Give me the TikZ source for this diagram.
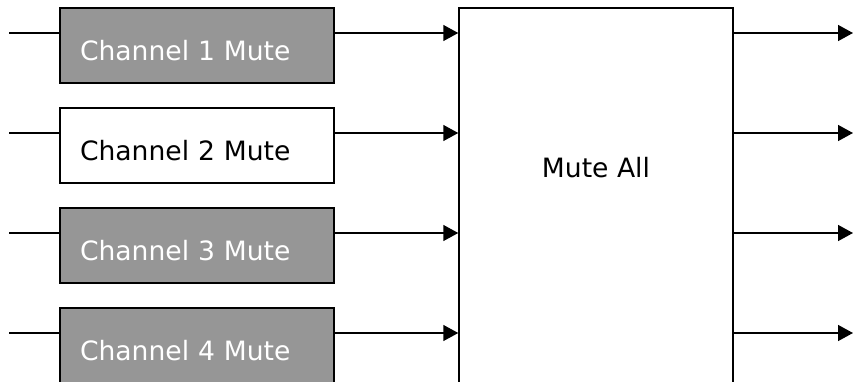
\documentclass[tikz,border=0pt]{standalone}
\usepackage{fontspec}
\setmainfont{DejaVu Sans}
\usepackage{xcolor}
\usepackage{tikz}
\usetikzlibrary{arrows.meta, positioning}

\definecolor{mutegray}{HTML}{969696}

\begin{document}
\begin{tikzpicture}[
    x=0.5pt, y=-0.5pt,
    chbox/.style={rectangle, draw, line width=0.75pt, minimum width=137pt, minimum height=37.5pt, text width=117pt, inner xsep=10pt, align=left, text height=14.5pt, text depth=0pt, font=\fontsize{13.3}{15}\selectfont},
    muted/.style={chbox, fill=mutegray, text=white},
    allbox/.style={rectangle, draw, line width=0.75pt, minimum width=137pt, minimum height=196pt, text height=10pt, text depth=37pt, font=\fontsize{13.3}{15}\selectfont},
    sig/.style={line width=0.75pt},
    arr/.style={sig, -{Triangle[length=7.5pt, width=8pt]}}
]
\clip (0,0) rectangle (853,381);

% Channel blocks
\node[muted] (ch1) at (197, 45.5) {Channel 1 Mute};
\node[chbox] (ch2) at (197, 145.5) {Channel 2 Mute};
\node[muted] (ch3) at (197, 245.5) {Channel 3 Mute};
\node[muted] (ch4) at (197, 345.5) {Channel 4 Mute};

% Master block
\node[allbox] (mute) at (596, 204) {Mute All};

% Signal ends
\coordinate (in1) at (9, 33);
\coordinate (in2) at (9, 133);
\coordinate (in3) at (9, 233);
\coordinate (in4) at (9, 333);
\coordinate (out1) at (853, 33);
\coordinate (out2) at (853, 133);
\coordinate (out3) at (853, 233);
\coordinate (out4) at (853, 333);

% Connections
\draw[sig] (in1) -- (in1 -| ch1.west);
\draw[sig] (in2) -- (in2 -| ch2.west);
\draw[sig] (in3) -- (in3 -| ch3.west);
\draw[sig] (in4) -- (in4 -| ch4.west);
\draw[arr] (in1 -| ch1.east) -- (in1 -| mute.west);
\draw[arr] (in2 -| ch2.east) -- (in2 -| mute.west);
\draw[arr] (in3 -| ch3.east) -- (in3 -| mute.west);
\draw[arr] (in4 -| ch4.east) -- (in4 -| mute.west);
\draw[arr] (mute.east |- out1) -- (out1);
\draw[arr] (mute.east |- out2) -- (out2);
\draw[arr] (mute.east |- out3) -- (out3);
\draw[arr] (mute.east |- out4) -- (out4);

\end{tikzpicture}
\end{document}
